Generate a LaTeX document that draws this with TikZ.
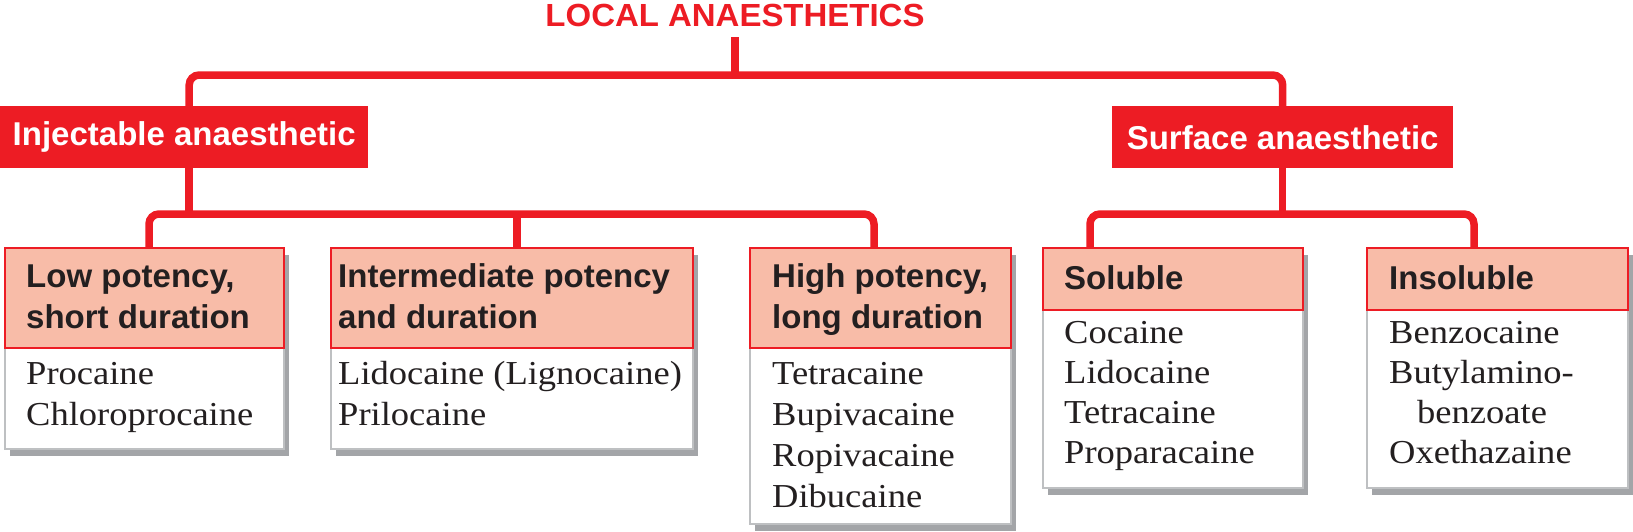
\documentclass[tikz,border=0pt]{standalone}
\usepackage{fontspec}
\newfontfamily\hfont{Liberation Sans}
\newfontfamily\sfont{Liberation Serif}[FakeStretch=1.09]
\definecolor{lared}{RGB}{237,28,36}
\definecolor{salmon}{RGB}{248,188,168}
\definecolor{bordergray}{RGB}{190,192,194}
\definecolor{shadowgray}{RGB}{163,165,168}
\definecolor{textblack}{RGB}{35,31,32}
\begin{document}
\begin{tikzpicture}[x=1pt,y=-1pt,
  conn/.style={draw=lared, line width=7.5pt, rounded corners=10pt},
  redbox/.style={fill=lared, draw=none, inner sep=0pt, anchor=north west, text=white,
    font=\hfont\bfseries\fontsize{33}{41}\selectfont},
  hdr/.style={fill=salmon, draw=lared, line width=1.5pt, anchor=north west, inner sep=0pt},
  bodybox/.style={fill=white, draw=bordergray, line width=1.5pt, anchor=north west, inner sep=0pt},
  shadowbox/.style={fill=shadowgray, draw=none, anchor=north west, inner sep=0pt},
  htext/.style={anchor=base west, inner sep=0pt, text=textblack,
    font=\hfont\bfseries\fontsize{33}{41}\selectfont},
  btext/.style={anchor=base west, inner sep=0pt, text=textblack,
    font=\sfont\fontsize{33.5}{41}\selectfont},
  btextb/.style={btext, font=\sfont\fontsize{33.5}{40}\selectfont}
]
\useasboundingbox (0,0) rectangle (1633,531);

% title
\node[anchor=base, inner sep=0pt, text=lared, font=\hfont\bfseries\fontsize{32}{36}\selectfont]
  (title) at (735,26) {\scalebox{1.03}[1]{LOCAL ANAESTHETICS}};

% level 1 boxes
\node[redbox, minimum width=368pt, minimum height=62pt] (inj) at (0,106) {Injectable anaesthetic};
\node[redbox, minimum width=341pt, minimum height=62pt] (surf) at (1112,106) {Surface anaesthetic};

\coordinate (topbar) at (0,75);
\coordinate (midbar) at (0,214);

% level 2 boxes: shadows
\node[shadowbox, minimum width=279pt, minimum height=201pt] (lowsh) at (10,255) {};
\node[shadowbox, minimum width=362pt, minimum height=201pt] (intsh) at (336,255) {};
\node[shadowbox, minimum width=261pt, minimum height=276pt] (highsh) at (755,255) {};
\node[shadowbox, minimum width=260pt, minimum height=240pt] (solsh) at (1048,255) {};
\node[shadowbox, minimum width=261pt, minimum height=240pt] (insh) at (1372,255) {};

% bodies
\node[bodybox, minimum width=279pt, minimum height=201pt] (lowbody) at (4,247) {};
\node[bodybox, minimum width=362pt, minimum height=201pt] (intbody) at (330,247) {};
\node[bodybox, minimum width=261pt, minimum height=276pt] (highbody) at (749,247) {};
\node[bodybox, minimum width=260pt, minimum height=240pt] (solbody) at (1042,247) {};
\node[bodybox, minimum width=261pt, minimum height=240pt] (inbody) at (1366,247) {};

% headers
\node[hdr, minimum width=279pt, minimum height=100pt] (low) at (4,247) {};
\node[hdr, minimum width=362pt, minimum height=100pt] (inter) at (330,247) {};
\node[hdr, minimum width=261pt, minimum height=100pt] (high) at (749,247) {};
\node[hdr, minimum width=260pt, minimum height=62pt] (sol) at (1042,247) {};
\node[hdr, minimum width=261pt, minimum height=62pt] (insol) at (1366,247) {};

% header texts
\node[htext] (lowt) at (26,287) {\begin{tabular}[t]{@{}l@{}}Low potency,\\short duration\end{tabular}};
\node[htext] (intt) at (338,287) {\begin{tabular}[t]{@{}l@{}}Intermediate potency\\and duration\end{tabular}};
\node[htext] (hight) at (772,287) {\begin{tabular}[t]{@{}l@{}}High potency,\\long duration\end{tabular}};
\node[htext] (solt) at (1064,289) {Soluble};
\node[htext] (insolt) at (1389,289) {Insoluble};

% body texts
\node[btext] (lowb) at (26,384) {\begin{tabular}[t]{@{}l@{}}Procaine\\Chloroprocaine\end{tabular}};
\node[btext] (intb) at (338,384) {\begin{tabular}[t]{@{}l@{}}Lidocaine (Lignocaine)\\Prilocaine\end{tabular}};
\node[btext] (highb) at (772,384) {\begin{tabular}[t]{@{}l@{}}Tetracaine\\Bupivacaine\\Ropivacaine\\Dibucaine\end{tabular}};
\node[btextb] (solb) at (1064,343) {\begin{tabular}[t]{@{}l@{}}Cocaine\\Lidocaine\\Tetracaine\\Proparacaine\end{tabular}};
\node[btextb] (insolb) at (1389,343) {\begin{tabular}[t]{@{}l@{}}Benzocaine\\Butylamino-\\\hspace*{28pt}benzoate\\Oxethazaine\end{tabular}};

% connectors
\draw[conn, rounded corners=0pt] ([yshift=-11pt]title.base) -- (title.base |- topbar);
\draw[conn] ([xshift=5pt]inj.north) -- ([xshift=5pt]inj.north |- topbar) -- (surf.north |- topbar) -- (surf.north);
\draw[conn, rounded corners=0pt] ([xshift=5pt]inj.south) -- ([xshift=5pt]inj.south |- midbar);
\draw[conn] ([xshift=145pt]low.north west) -- ([xshift=145pt]low.north west |- midbar)
  -- ([xshift=125pt]high.north west |- midbar) -- ([xshift=125pt]high.north west);
\draw[conn, rounded corners=0pt] ([xshift=187pt]inter.north west) -- ([xshift=187pt]inter.north west |- midbar);
\draw[conn, rounded corners=0pt] (surf.south) -- (surf.south |- midbar);
\draw[conn] ([xshift=48pt]sol.north west) -- ([xshift=48pt]sol.north west |- midbar)
  -- ([xshift=108pt]insol.north west |- midbar) -- ([xshift=108pt]insol.north west);
\end{tikzpicture}
\end{document}
